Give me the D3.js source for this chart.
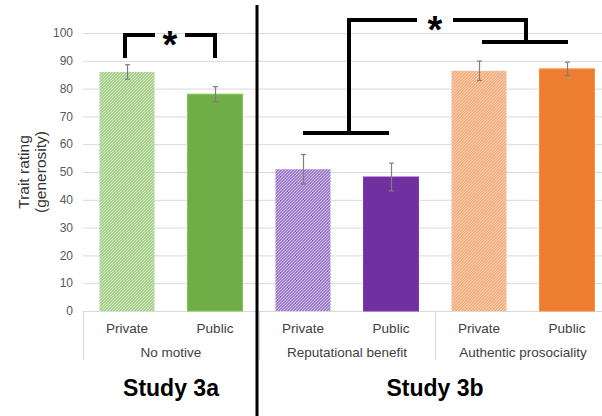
<!DOCTYPE html>
<html>
<head>
<meta charset="utf-8">
<script src="https://cdn.jsdelivr.net/npm/d3@7"></script>
<style>
  body { margin: 0; background: #fff; }
  svg { display: block; font-family: "Liberation Sans", Arial, sans-serif; }
</style>
</head>
<body>
<div id="chart"></div>
<script>
const w = 602;
const h = 416;

// data
const conditions = ['Private', 'Public', 'Private', 'Public', 'Private', 'Public'];
const motives = ['No motive', 'Reputational benefit', 'Authentic prosociality'];
const studies = ['Study 3a', 'Study 3b'];
const means = [86, 78, 51, 48.2, 86.4, 87.1];
const errors = [2.6, 2.7, 5.3, 5.0, 3.5, 2.4];
const yTicks = [0, 10, 20, 30, 40, 50, 60, 70, 80, 90, 100];

const baseColors = ['#a9d18e', '#70ad47', '#9f7fcb', '#7030a0', '#f5ae7c', '#ed7d31'];
const hatched = [true, false, true, false, true, false];

const svg = d3.select('#chart').append('svg').attr('width', w).attr('height', h);

const ids = d3.range(conditions.length);
const xScale = d3.scaleBand().domain(ids).range([83, 611]).paddingInner(0.375).paddingOuter(0.1875);
const groupScale = d3.scaleBand().domain(motives).range([83, 611]);
const yScale = d3.scaleLinear().domain([0, 100]).range([311, 33]);

// hatch patterns for the "private" bars
const defs = svg.append('defs');
ids.filter(i => hatched[i]).forEach(i => {
    const p = defs.append('pattern')
        .attr('id', 'hatch' + i)
        .attr('patternUnits', 'userSpaceOnUse')
        .attr('width', 3).attr('height', 3);
    p.append('rect').attr('width', 3).attr('height', 3).attr('fill', baseColors[i]);
    p.append('path')
        .attr('d', 'M-1,1 l2,-2 M0,3 l3,-3 M2,4 l2,-2')
        .attr('stroke', '#fff').attr('stroke-width', 0.8).attr('stroke-opacity', 0.6);
});

// gridlines
svg.append('g')
    .selectAll('line')
    .data(yTicks)
    .enter()
    .append('line')
    .attr('x1', 83).attr('x2', w)
    .attr('y1', d => yScale(d) + 0.5).attr('y2', d => yScale(d) + 0.5)
    .attr('stroke', '#d9d9d9').attr('stroke-width', 1);

// y tick labels
svg.append('g')
    .selectAll('text')
    .data(yTicks)
    .enter()
    .append('text')
    .attr('x', 73)
    .attr('y', d => yScale(d))
    .attr('dy', '0.35em')
    .attr('text-anchor', 'end')
    .attr('font-size', 12)
    .attr('fill', '#595959')
    .text(d => d);

// y title
const yTitle = svg.append('text')
    .attr('transform', 'translate(0,172) rotate(-90)')
    .attr('text-anchor', 'middle')
    .attr('font-size', 15.5)
    .attr('fill', '#333');
yTitle.append('tspan').attr('x', 0).attr('y', 29).text('Trait rating');
yTitle.append('tspan').attr('x', 0).attr('y', 46).text('(generosity)');

// category axis boxes
const boxEdges = motives.map(m => groupScale(m)).concat([groupScale(motives[2]) + groupScale.bandwidth()]);
svg.append('g')
    .selectAll('line')
    .data(boxEdges)
    .enter()
    .append('line')
    .attr('x1', d => d + 0.5).attr('x2', d => d + 0.5)
    .attr('y1', 311).attr('y2', 360)
    .attr('stroke', '#d9d9d9');

// bars
svg.append('g')
    .selectAll('rect')
    .data(ids)
    .enter()
    .append('rect')
    .attr('x', i => xScale(i))
    .attr('y', i => yScale(means[i]))
    .attr('width', xScale.bandwidth())
    .attr('height', i => yScale(0) - yScale(means[i]))
    .attr('fill', i => hatched[i] ? 'url(#hatch' + i + ')' : baseColors[i])
    .attr('stroke', i => hatched[i] ? 'none' : d3.color(baseColors[i]).brighter(0.4))
    .attr('stroke-width', 1);

// error bars
const errG = svg.append('g').attr('stroke', '#7f7f7f').attr('stroke-width', 1.2);
ids.forEach(i => {
    const cx = Math.round(xScale(i) + xScale.bandwidth() / 2) + 0.5;
    const top = yScale(means[i] + errors[i]);
    const bot = yScale(means[i] - errors[i]);
    errG.append('line').attr('x1', cx).attr('x2', cx).attr('y1', top).attr('y2', bot);
    errG.append('line').attr('x1', cx - 2.5).attr('x2', cx + 2.5).attr('y1', top).attr('y2', top);
    errG.append('line').attr('x1', cx - 2.5).attr('x2', cx + 2.5).attr('y1', bot).attr('y2', bot);
});

// condition labels
svg.append('g')
    .selectAll('text')
    .data(ids)
    .enter()
    .append('text')
    .attr('x', i => xScale(i) + xScale.bandwidth() / 2)
    .attr('y', 333)
    .attr('text-anchor', 'middle')
    .attr('font-size', 13.5)
    .attr('fill', '#404040')
    .text(i => conditions[i]);

// motive labels
svg.append('g')
    .selectAll('text')
    .data(motives)
    .enter()
    .append('text')
    .attr('x', d => groupScale(d) + groupScale.bandwidth() / 2)
    .attr('y', 357)
    .attr('text-anchor', 'middle')
    .attr('font-size', 13.5)
    .attr('fill', '#404040')
    .text(d => d);

// study titles
const studyCenters = [
    groupScale(motives[0]) + groupScale.bandwidth() / 2,
    groupScale(motives[2])
];
svg.append('g')
    .selectAll('text')
    .data(studies)
    .enter()
    .append('text')
    .attr('x', (d, i) => studyCenters[i])
    .attr('y', 396)
    .attr('text-anchor', 'middle')
    .attr('font-size', 23)
    .attr('font-weight', 'bold')
    .attr('fill', '#000')
    .text(d => d);

// divider between studies
svg.append('line')
    .attr('x1', 257).attr('x2', 257)
    .attr('y1', 5).attr('y2', h)
    .attr('stroke', '#000').attr('stroke-width', 3);

// significance brackets
const mid = i => xScale(i) + xScale.bandwidth() / 2;
const br = svg.append('g').attr('stroke', '#000').attr('stroke-width', 4).attr('fill', 'none');
const star = (x, y) => svg.append('text')
    .attr('x', x).attr('y', y)
    .attr('text-anchor', 'middle')
    .attr('font-size', 38)
    .attr('font-weight', 'bold')
    .text('*');

// Study 3a
const top3a = yScale(99.3);
const leg3a = yScale(91);
const c3a = (mid(0) + mid(1)) / 2 - 1;
br.append('path').attr('d', `M${mid(0) - 2},${leg3a} V${top3a} H${c3a - 15}`);
br.append('path').attr('d', `M${c3a + 15},${top3a} H${mid(1)} V${leg3a}`);
star(c3a, top3a + 23);

// Study 3b
const low1 = yScale(64);
const low2 = yScale(96.8);
const top3b = yScale(104.7);
const m1 = (mid(2) + mid(3)) / 2 + 2;
const m2 = (mid(4) + mid(5)) / 2 + 3;
const c3b = groupScale(motives[2]);
br.append('path').attr('d', `M${mid(2)},${low1} H${mid(3) - 2}`);
br.append('path').attr('d', `M${mid(4) + 3},${low2} H${mid(5) + 1}`);
br.append('path').attr('d', `M${m1},${low1} V${top3b} H${c3b - 18}`);
br.append('path').attr('d', `M${c3b + 18},${top3b} H${m2} V${low2}`);
star(c3b, top3b + 23);
</script>
</body>
</html>
